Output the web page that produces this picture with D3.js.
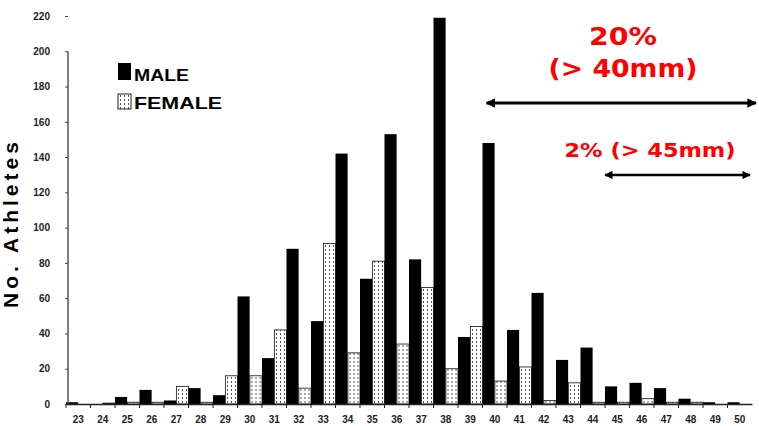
<!DOCTYPE html>
<html>
<head>
<meta charset="utf-8">
<script src="https://cdn.jsdelivr.net/npm/d3@7"></script>
<style>
  body { margin: 0; background: #fff; }
  svg { display: block; }
  .ax text { font-family: "Liberation Sans", Arial, sans-serif; font-weight: bold; font-size: 10px; fill: #222; }
</style>
</head>
<body>
<div id="plot"></div>
<script>
// shoe size categories (mm)
var categories = [23,24,25,26,27,28,29,30,31,32,33,34,35,36,37,38,39,40,41,42,43,44,45,46,47,48,49,50];
var maleCounts = [1,0,4,8,2,9,5,61,26,88,47,142,71,153,82,219,38,148,42,63,25,32,10,12,9,3,1,1];
var femaleCounts = [0,0.5,1,1,10,1,16,16,42,9,91,29,81,34,66,20,44,13,21,2,12,1,1,3,1,1,0,0];
var yTicks = [0,20,40,60,80,100,120,140,160,180,200,220];
var series = ["MALE", "FEMALE"];

// annotations (category where the range starts)
var notes = [
  {from: 40, lines: ["20%", "(> 40mm)"]},
  {from: 45, lines: ["2% (> 45mm)"]}
];

var width = 759, height = 426;

var svg = d3.select("#plot").append("svg")
  .attr("width", width)
  .attr("height", height);

var defs = svg.append("defs");

// dotted fill for female bars
var pat = defs.append("pattern")
  .attr("id", "dots")
  .attr("patternUnits", "userSpaceOnUse")
  .attr("width", 4)
  .attr("height", 4);
pat.append("rect").attr("width", 4).attr("height", 4).attr("fill", "#fff");
pat.append("rect").attr("x", 2).attr("y", 1).attr("width", 1).attr("height", 2).attr("fill", "#555");

// arrow heads
defs.append("marker")
  .attr("id", "headEnd")
  .attr("viewBox", "0 0 10 10")
  .attr("refX", 9).attr("refY", 5)
  .attr("markerWidth", 3.4).attr("markerHeight", 3.2)
  .attr("orient", "auto")
  .append("path").attr("d", "M0,0 L10,5 L0,10 z").attr("fill", "#000");
defs.append("marker")
  .attr("id", "headStart")
  .attr("viewBox", "0 0 10 10")
  .attr("refX", 1).attr("refY", 5)
  .attr("markerWidth", 3.4).attr("markerHeight", 3.2)
  .attr("orient", "auto")
  .append("path").attr("d", "M10,0 L0,5 L10,10 z").attr("fill", "#000");

var x = d3.scaleBand()
  .domain(categories)
  .range([66, 752])
  .paddingInner(0);

var xSub = d3.scaleBand()
  .domain(series)
  .range([0, x.bandwidth()])
  .paddingInner(0.02);

var y = d3.scaleLinear()
  .domain([0, 220])
  .range([404, 16]);

// bars
var rows = categories.map(function(c, i) {
  return {cat: c, values: [{s: "MALE", v: maleCounts[i]}, {s: "FEMALE", v: femaleCounts[i]}]};
});

var grp = svg.selectAll(".cat")
  .data(rows)
  .join("g")
  .attr("class", "cat")
  .attr("transform", function(d) { return "translate(" + x(d.cat) + ",0)"; });

grp.selectAll("rect")
  .data(function(d) { return d.values; })
  .join("rect")
  .attr("x", function(d) { return xSub(d.s); })
  .attr("width", xSub.bandwidth())
  .attr("y", function(d) { return y(d.v); })
  .attr("height", function(d) { return y(0) - y(d.v); })
  .attr("fill", function(d) { return d.s == "MALE" ? "#000" : "url(#dots)"; })
  .attr("stroke", function(d) { return d.s == "MALE" ? "none" : "#111"; })
  .attr("stroke-width", 0.8);

// y axis
var yAxis = svg.append("g")
  .attr("class", "ax")
  .attr("transform", "translate(68,0)")
  .call(d3.axisLeft(y).tickValues(yTicks).tickSize(3).tickPadding(15));
yAxis.select(".domain").remove();
yAxis.selectAll(".tick line").attr("stroke", "#444");
yAxis.append("line")
  .attr("x1", 0).attr("x2", 0)
  .attr("y1", y(200)).attr("y2", y(0))
  .attr("stroke", "#555")
  .attr("stroke-width", 1.5);

// x axis
var xAxis = svg.append("g")
  .attr("class", "ax")
  .attr("transform", "translate(0," + y(0) + ")")
  .call(d3.axisBottom(x).tickSize(0).tickPadding(12));
xAxis.select(".domain").attr("stroke", "#222").attr("stroke-width", 1.5);

// boundary ticks between categories
xAxis.selectAll(".bt")
  .data(categories)
  .join("line")
  .attr("class", "bt")
  .attr("x1", function(d) { return x(d); })
  .attr("x2", function(d) { return x(d); })
  .attr("y1", 0).attr("y2", 4)
  .attr("stroke", "#222");

// y label
svg.append("text")
  .attr("transform", "translate(18," + ((y(0) + y(220)) / 2 + 15) + ") rotate(-90)")
  .attr("text-anchor", "middle")
  .attr("textLength", 166)
  .attr("lengthAdjust", "spacing")
  .style("font-family", "Liberation Sans, Arial, sans-serif")
  .style("font-weight", "bold")
  .style("font-size", "21px")
  .text("No. Athletes");

// legend
var legend = svg.append("g").attr("transform", "translate(118,63)");
var legRows = legend.selectAll("g")
  .data(series)
  .join("g")
  .attr("transform", function(d, i) { return "translate(0," + (i * 31) + ")"; });
legRows.append("rect")
  .attr("width", 13)
  .attr("height", function(d, i) { return i == 0 ? 17 : 15; })
  .attr("fill", function(d) { return d == "MALE" ? "#000" : "url(#dots)"; })
  .attr("stroke", function(d) { return d == "MALE" ? "none" : "#222"; });
legRows.append("text")
  .attr("x", 16)
  .attr("y", function(d, i) { return i == 0 ? 18 : 15; })
  .attr("textLength", function(d) { return d == "MALE" ? 55 : 88; })
  .attr("lengthAdjust", "spacingAndGlyphs")
  .style("font-family", "Liberation Sans, Arial, sans-serif")
  .style("font-weight", "bold")
  .style("font-size", "17px")
  .text(function(d) { return d; });

// annotations: ranges from category to right edge
var arrowY = [103, 175];
var textY = [[45, 77], [157]];
var textLen = [[68, 149], [171]];
var textSize = [25, 19];
var textCx = [[623, 623], [650]];

notes.forEach(function(n, i) {
  svg.append("line")
    .attr("x1", x(n.from) + (i == 0 ? 4 : 0))
    .attr("x2", x.range()[1] + (i == 0 ? 4 : -2))
    .attr("y1", arrowY[i]).attr("y2", arrowY[i])
    .attr("stroke", "#000")
    .attr("stroke-width", i == 0 ? 3 : 2.6)
    .attr("marker-start", "url(#headStart)")
    .attr("marker-end", "url(#headEnd)");

  n.lines.forEach(function(t, j) {
    svg.append("text")
      .attr("x", textCx[i][j])
      .attr("y", textY[i][j])
      .attr("text-anchor", "middle")
      .attr("textLength", textLen[i][j])
      .attr("lengthAdjust", "spacingAndGlyphs")
      .style("font-family", "DejaVu Sans, Verdana, sans-serif")
      .style("font-weight", "bold")
      .style("font-size", textSize[i] + "px")
      .style("fill", "#f00")
      .text(t);
  });
});
</script>
</body>
</html>
